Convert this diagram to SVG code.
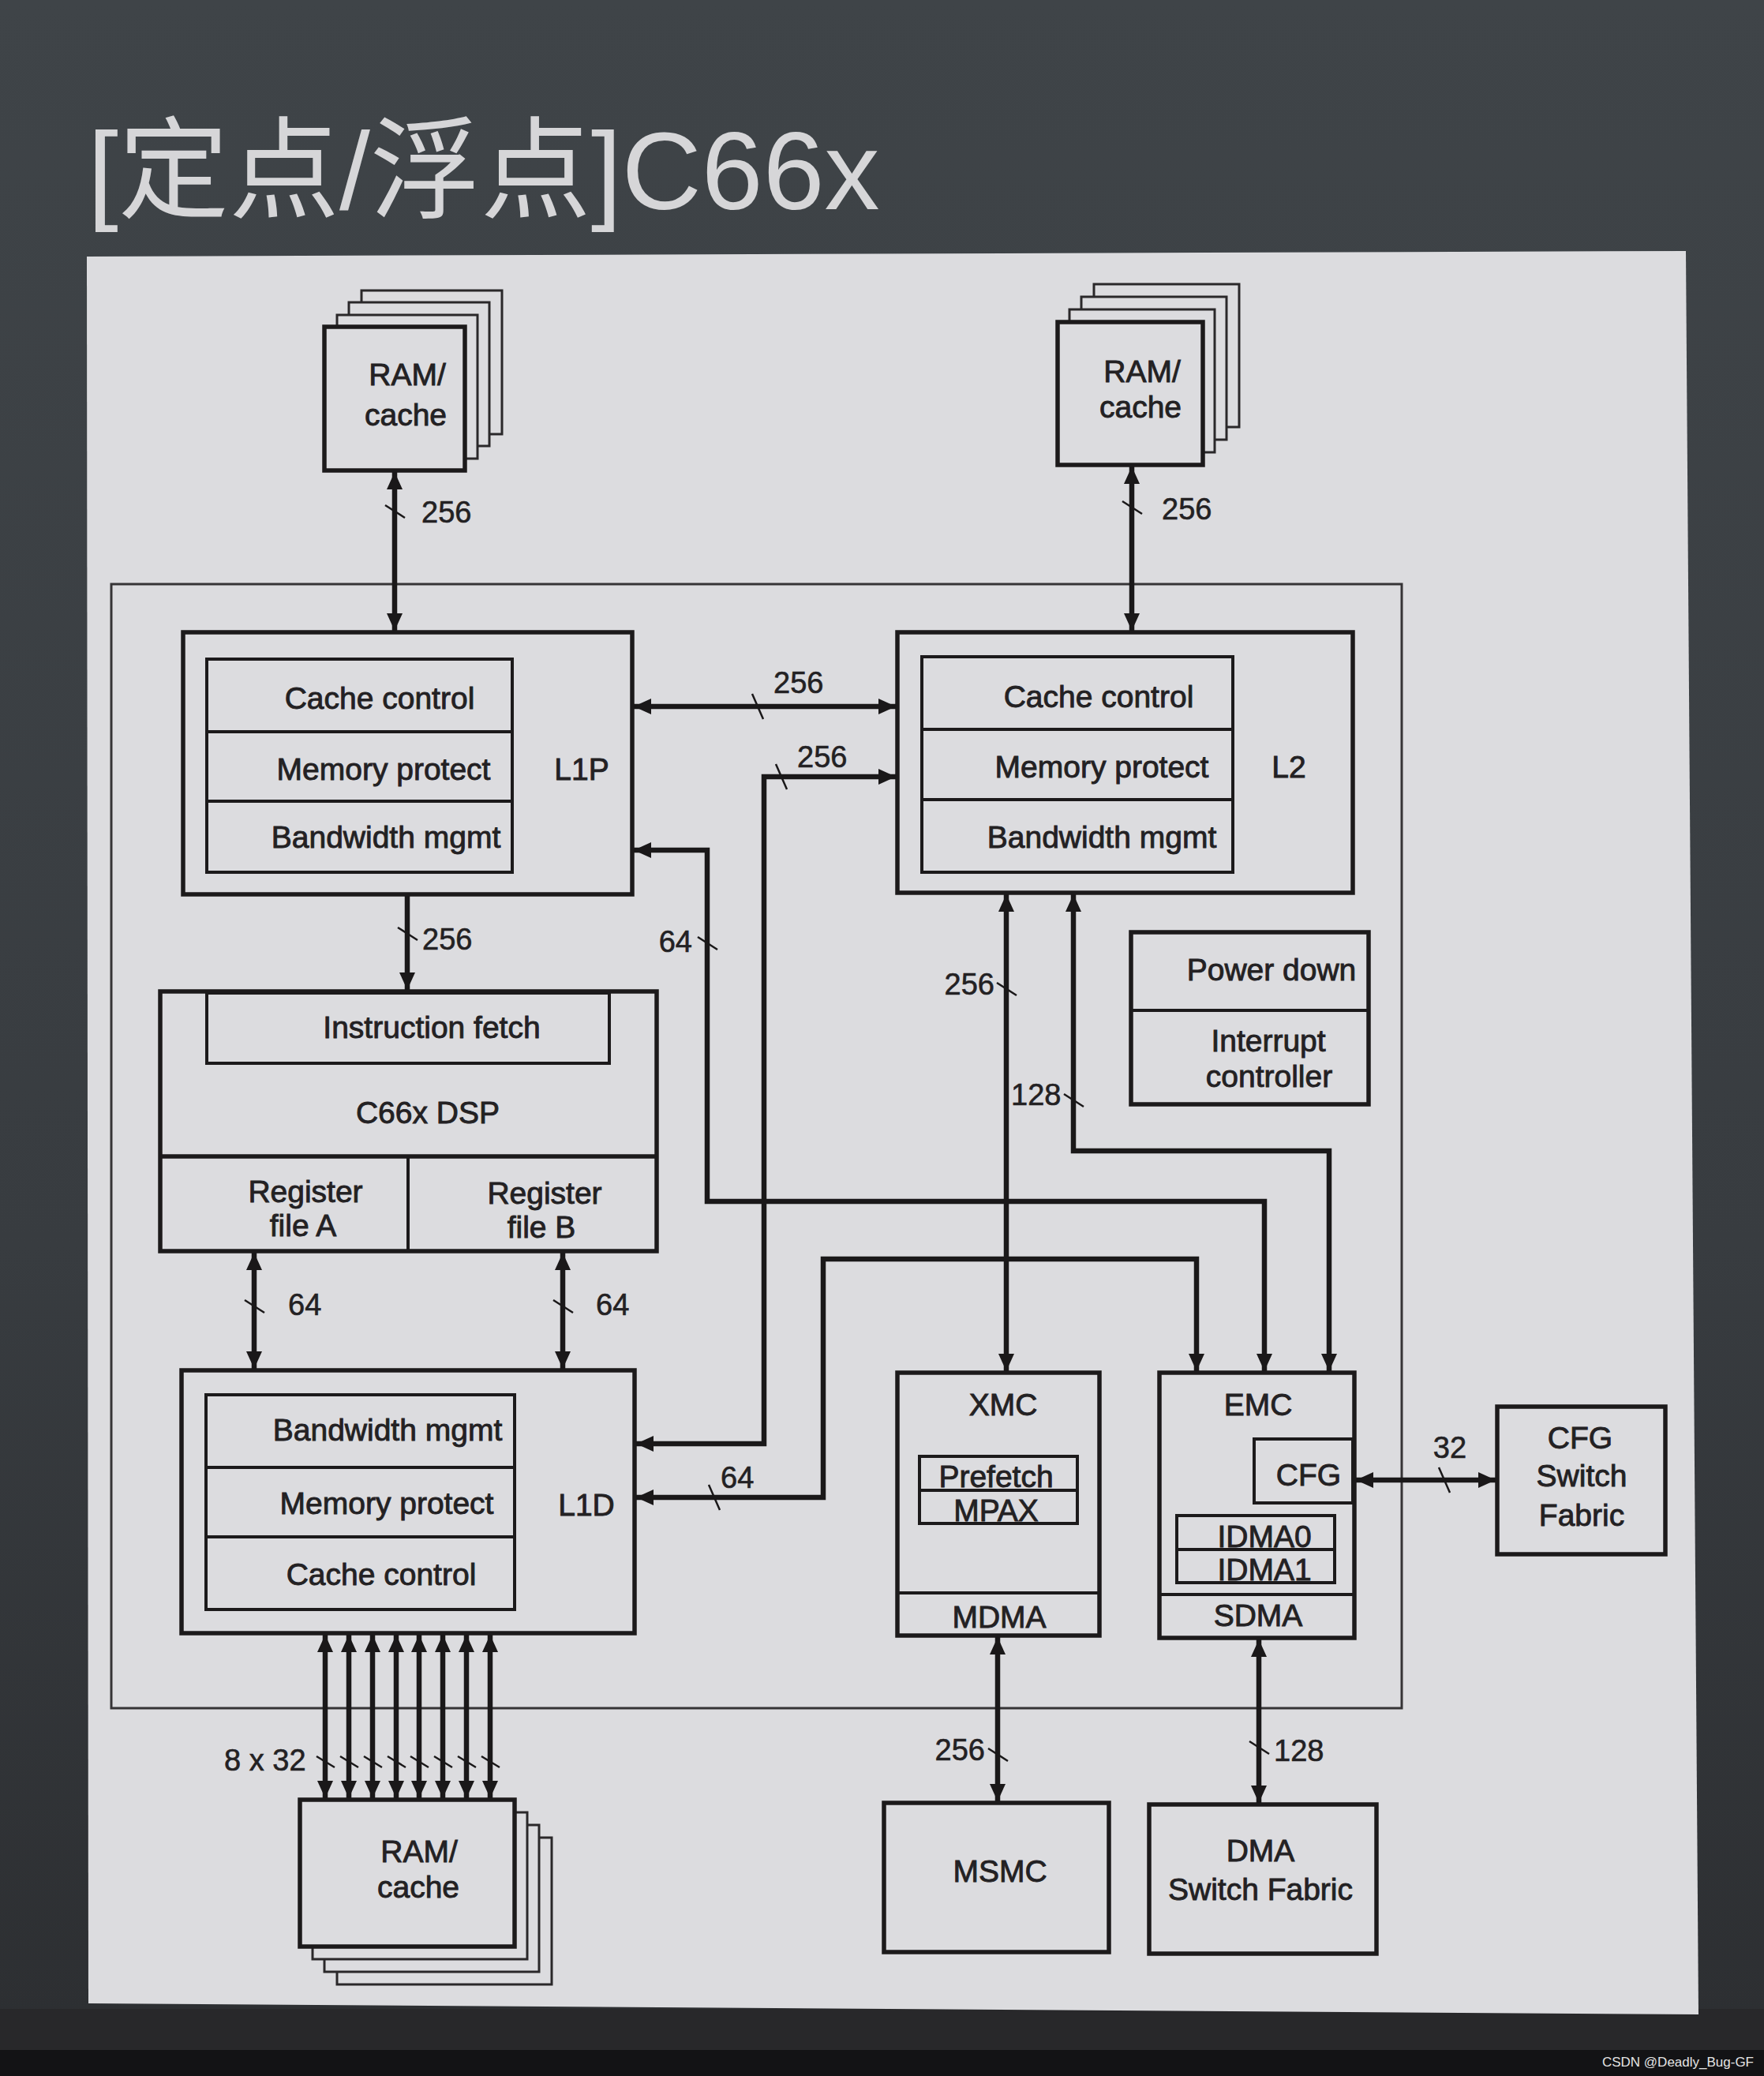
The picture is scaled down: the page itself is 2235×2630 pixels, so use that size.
<svg xmlns="http://www.w3.org/2000/svg" width="2235" height="2630" viewBox="0 0 2235 2630">
<defs>
<linearGradient id="bgg" x1="0" y1="0" x2="0" y2="1">
<stop offset="0" stop-color="#3f4448"/>
<stop offset="0.6" stop-color="#383c40"/>
<stop offset="1" stop-color="#2c2e31"/>
</linearGradient>
<marker id="ah" markerUnits="userSpaceOnUse" markerWidth="22" markerHeight="20" viewBox="0 0 22 20" refX="22" refY="10" orient="auto-start-reverse">
<path d="M0,0 L22,10 L0,20 z" fill="#1a1819"/>
</marker>
<style>
.panel{fill:#dcdcdf}
.box{fill:none;stroke:#1c1a1b;stroke-width:5.5}
.inner{fill:none;stroke:#1c1a1b;stroke-width:4}
.frame{fill:none;stroke:#363436;stroke-width:3}
.layer{fill:#dcdcdf;stroke:#2a282a;stroke-width:3}
.front{fill:#dcdcdf;stroke:#1c1a1b;stroke-width:5.5}
.t{font-family:"Liberation Sans",Arial,sans-serif;font-size:39px;fill:#232123;text-anchor:middle;stroke:#232123;stroke-width:0.9}
.n{font-family:"Liberation Sans",Arial,sans-serif;font-size:38px;fill:#232123;stroke:#232123;stroke-width:0.6}
.c{fill:none;stroke:#1a1819;stroke-width:6.5}
.tick{fill:none;stroke:#1a1819;stroke-width:2.5}
</style>
</defs>
<rect x="0" y="0" width="2235" height="2630" fill="url(#bgg)"/>
<rect x="0" y="2545" width="2235" height="52" fill="#28282a"/>
<rect x="0" y="2597" width="2235" height="33" fill="#131315"/>
<polygon class="panel" points="110,325 2136,318 2152,2552 112,2538"/>
<text x="111" y="265" font-family="'Liberation Sans','Noto Sans CJK SC',sans-serif" font-size="140" fill="#d6d6d8">[定点/浮点]C66x</text>
<text x="2222" y="2618" font-family="'Liberation Sans',Arial,sans-serif" font-size="17" fill="#e4e4e4" text-anchor="end">CSDN @Deadly_Bug-GF</text>

<rect id="core-frame" class="frame" x="141" y="740" width="1635" height="1424"/>

<g id="ram-top-left">
<rect class="layer" x="458" y="368" width="178" height="182"/>
<rect class="layer" x="442" y="383" width="178" height="182"/>
<rect class="layer" x="427" y="399" width="178" height="182"/>
<rect class="front" x="411" y="414" width="178" height="182"/>
<text class="t" x="516" y="488">RAM/</text>
<text class="t" x="514" y="539">cache</text>
</g>

<g id="ram-top-right">
<rect class="layer" x="1386" y="360" width="184" height="181"/>
<rect class="layer" x="1370" y="376" width="184" height="181"/>
<rect class="layer" x="1355" y="392" width="184" height="181"/>
<rect class="front" x="1340" y="408" width="184" height="181"/>
<text class="t" x="1447" y="484">RAM/</text>
<text class="t" x="1445" y="529">cache</text>
</g>

<g id="ram-bottom">
<rect class="layer" x="427" y="2328" width="272" height="186"/>
<rect class="layer" x="411" y="2312" width="272" height="186"/>
<rect class="layer" x="396" y="2296" width="272" height="186"/>
<rect class="front" x="380" y="2280" width="272" height="186"/>
<text class="t" x="531" y="2359">RAM/</text>
<text class="t" x="530" y="2404">cache</text>
</g>

<g id="l1p">
<rect class="box" x="232" y="801" width="569" height="332"/>
<rect class="inner" x="262" y="835" width="387" height="270"/>
<line class="inner" x1="262" y1="927" x2="649" y2="927"/>
<line class="inner" x1="262" y1="1015" x2="649" y2="1015"/>
<text class="t" x="481" y="898">Cache control</text>
<text class="t" x="486" y="988">Memory protect</text>
<text class="t" x="489" y="1074">Bandwidth mgmt</text>
<text class="t" x="737" y="988">L1P</text>
</g>

<g id="l2">
<rect class="box" x="1137" y="801" width="577" height="330"/>
<rect class="inner" x="1168" y="832" width="394" height="273"/>
<line class="inner" x1="1168" y1="924" x2="1562" y2="924"/>
<line class="inner" x1="1168" y1="1013" x2="1562" y2="1013"/>
<text class="t" x="1392" y="896">Cache control</text>
<text class="t" x="1396" y="985">Memory protect</text>
<text class="t" x="1396" y="1074">Bandwidth mgmt</text>
<text class="t" x="1633" y="985">L2</text>
</g>

<g id="dsp">
<rect class="box" x="203" y="1256" width="629" height="329"/>
<rect class="inner" x="262" y="1258" width="510" height="89"/>
<line class="box" x1="203" y1="1465" x2="832" y2="1465"/>
<line class="inner" x1="517" y1="1465" x2="517" y2="1585"/>
<text class="t" x="547" y="1315">Instruction fetch</text>
<text class="t" x="542" y="1423">C66x DSP</text>
<text class="t" x="387" y="1523">Register</text>
<text class="t" x="384" y="1566">file A</text>
<text class="t" x="690" y="1525">Register</text>
<text class="t" x="686" y="1568">file B</text>
</g>

<g id="l1d">
<rect class="box" x="230" y="1736" width="574" height="333"/>
<rect class="inner" x="261" y="1767" width="391" height="272"/>
<line class="inner" x1="261" y1="1859" x2="652" y2="1859"/>
<line class="inner" x1="261" y1="1947" x2="652" y2="1947"/>
<text class="t" x="491" y="1825">Bandwidth mgmt</text>
<text class="t" x="490" y="1918">Memory protect</text>
<text class="t" x="483" y="2008">Cache control</text>
<text class="t" x="743" y="1920">L1D</text>
</g>

<g id="power-interrupt">
<rect class="box" x="1433" y="1181" width="301" height="218"/>
<line class="inner" x1="1433" y1="1280" x2="1734" y2="1280"/>
<text class="t" x="1611" y="1242">Power down</text>
<text class="t" x="1607" y="1332">Interrupt</text>
<text class="t" x="1608" y="1377">controller</text>
</g>

<g id="xmc">
<rect class="box" x="1137" y="1739" width="256" height="333"/>
<line class="inner" x1="1137" y1="2018" x2="1393" y2="2018"/>
<rect class="inner" x="1165" y="1845" width="200" height="85"/>
<line class="inner" x1="1165" y1="1888" x2="1365" y2="1888"/>
<text class="t" x="1271" y="1793">XMC</text>
<text class="t" x="1262" y="1884">Prefetch</text>
<text class="t" x="1262" y="1927">MPAX</text>
<text class="t" x="1266" y="2062">MDMA</text>
</g>

<g id="emc">
<rect class="box" x="1469" y="1739" width="247" height="336"/>
<line class="inner" x1="1469" y1="2020" x2="1716" y2="2020"/>
<rect class="inner" x="1589" y="1823" width="125" height="81"/>
<rect class="inner" x="1491" y="1920" width="200" height="85"/>
<line class="inner" x1="1491" y1="1963" x2="1691" y2="1963"/>
<text class="t" x="1594" y="1793">EMC</text>
<text class="t" x="1658" y="1882">CFG</text>
<text class="t" x="1602" y="1960">IDMA0</text>
<text class="t" x="1602" y="2002">IDMA1</text>
<text class="t" x="1594" y="2060">SDMA</text>
</g>

<g id="cfg-switch-fabric">
<rect class="box" x="1897" y="1782" width="213" height="187"/>
<text class="t" x="2002" y="1835">CFG</text>
<text class="t" x="2004" y="1883">Switch</text>
<text class="t" x="2004" y="1933">Fabric</text>
</g>

<g id="msmc">
<rect class="box" x="1120" y="2284" width="285" height="189"/>
<text class="t" x="1267" y="2384">MSMC</text>
</g>

<g id="dma-switch-fabric">
<rect class="box" x="1456" y="2286" width="288" height="189"/>
<text class="t" x="1597" y="2358">DMA</text>
<text class="t" x="1597" y="2407">Switch Fabric</text>
</g>

<g id="connectors">
<path class="c" d="M500,598 V799" marker-start="url(#ah)" marker-end="url(#ah)"/>
<path class="c" d="M1434,591 V799" marker-start="url(#ah)" marker-end="url(#ah)"/>
<path class="c" d="M803,895 H1135" marker-start="url(#ah)" marker-end="url(#ah)"/>
<path class="c" d="M806,1829 H968 V984 H1135" marker-start="url(#ah)" marker-end="url(#ah)"/>
<path class="c" d="M803,1077 H896 V1522 H1602 V1737" marker-start="url(#ah)" marker-end="url(#ah)"/>
<path class="c" d="M806,1897 H1043 V1595 H1516 V1737" marker-start="url(#ah)" marker-end="url(#ah)"/>
<path class="c" d="M1275,1133 V1737" marker-start="url(#ah)" marker-end="url(#ah)"/>
<path class="c" d="M1360,1133 V1458 H1684 V1737" marker-start="url(#ah)" marker-end="url(#ah)"/>
<path class="c" d="M1718,1875 H1895" marker-start="url(#ah)" marker-end="url(#ah)"/>
<path class="c" d="M1264,2074 V2282" marker-start="url(#ah)" marker-end="url(#ah)"/>
<path class="c" d="M1595,2077 V2284" marker-start="url(#ah)" marker-end="url(#ah)"/>
<path class="c" d="M516,1135 V1254" marker-end="url(#ah)"/>
<path class="c" d="M322,1587 V1734" marker-start="url(#ah)" marker-end="url(#ah)"/>
<path class="c" d="M713,1587 V1734" marker-start="url(#ah)" marker-end="url(#ah)"/>
<path class="c" d="M412,2071 V2278" marker-start="url(#ah)" marker-end="url(#ah)"/>
<path class="c" d="M442,2071 V2278" marker-start="url(#ah)" marker-end="url(#ah)"/>
<path class="c" d="M472,2071 V2278" marker-start="url(#ah)" marker-end="url(#ah)"/>
<path class="c" d="M502,2071 V2278" marker-start="url(#ah)" marker-end="url(#ah)"/>
<path class="c" d="M531,2071 V2278" marker-start="url(#ah)" marker-end="url(#ah)"/>
<path class="c" d="M561,2071 V2278" marker-start="url(#ah)" marker-end="url(#ah)"/>
<path class="c" d="M591,2071 V2278" marker-start="url(#ah)" marker-end="url(#ah)"/>
<path class="c" d="M621,2071 V2278" marker-start="url(#ah)" marker-end="url(#ah)"/>

<path class="tick" d="M488,640 L513,656 M1422,635 L1447,651 M953,879 L967,911 M983,968 L997,1000 M884,1187 L909,1203 M898,1881 L912,1913 M1263,1245 L1288,1261 M1348,1386 L1373,1402 M1823,1859 L1837,1891 M1252,2215 L1277,2231 M1583,2206 L1608,2222 M504,1175 L529,1191 M310,1647 L335,1663 M701,1647 L726,1663"/>
<path class="tick" d="M401,2225 L424,2239 M431,2225 L454,2239 M461,2225 L484,2239 M491,2225 L514,2239 M520,2225 L543,2239 M550,2225 L573,2239 M580,2225 L603,2239 M610,2225 L633,2239"/>

<text class="n" x="534" y="662">256</text>
<text class="n" x="1472" y="658">256</text>
<text class="n" x="980" y="878">256</text>
<text class="n" x="1010" y="972">256</text>
<text class="n" x="877" y="1206" text-anchor="end">64</text>
<text class="n" x="1260" y="1260" text-anchor="end">256</text>
<text class="n" x="1281" y="1400">128</text>
<text class="n" x="535" y="1203">256</text>
<text class="n" x="365" y="1666">64</text>
<text class="n" x="755" y="1666">64</text>
<text class="n" x="913" y="1885">64</text>
<text class="n" x="1837" y="1847" text-anchor="middle">32</text>
<text class="n" x="1248" y="2230" text-anchor="end">256</text>
<text class="n" x="1614" y="2231">128</text>
<text class="n" x="284" y="2243">8 x 32</text>
</g>
</svg>
